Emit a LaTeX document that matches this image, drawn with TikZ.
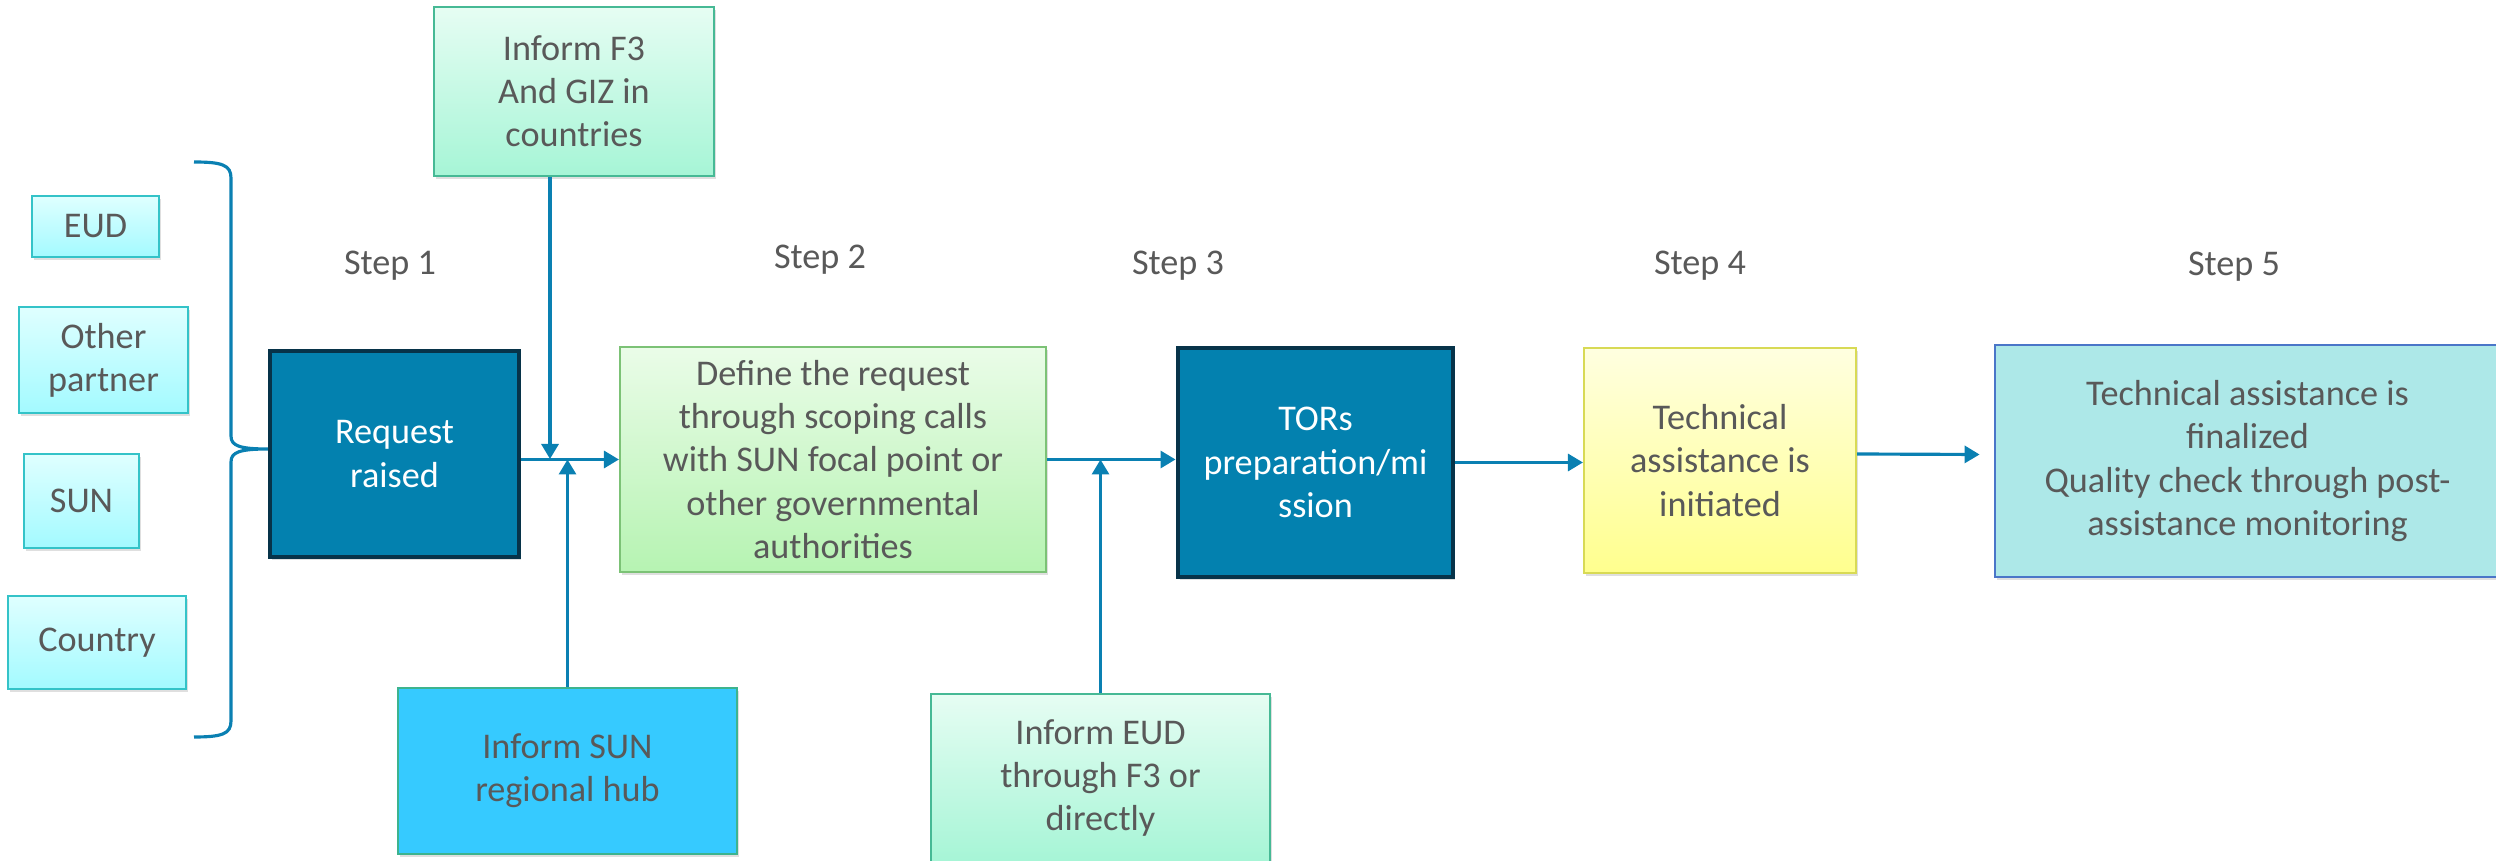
\documentclass[tikz,border=0pt]{standalone}
\usepackage{fontspec}
\setmainfont{Carlito}
\usepackage{tikz}
\usetikzlibrary{positioning,arrows.meta,shadows}

\definecolor{txtgray}{HTML}{595959}
\definecolor{linkblue}{HTML}{0A80B2}
\definecolor{darkfill}{HTML}{0381AF}
\definecolor{darkedge}{HTML}{073349}
\definecolor{cyantop}{HTML}{DFFFFF}
\definecolor{cyanbot}{HTML}{A3FAFF}
\definecolor{cyanedge}{HTML}{34C3C8}
\definecolor{minttop}{HTML}{E6FDF3}
\definecolor{mintbot}{HTML}{A6F5D6}
\definecolor{mintedge}{HTML}{46B995}
\definecolor{hubfill}{HTML}{36CAFF}
\definecolor{hubedge}{HTML}{3DB38E}
\definecolor{greentop}{HTML}{EAFCE8}
\definecolor{greenbot}{HTML}{B6F3B2}
\definecolor{greenedge}{HTML}{7CC276}
\definecolor{yellowtop}{HTML}{FFFFE0}
\definecolor{yellowbot}{HTML}{FFFF8E}
\definecolor{yellowedge}{HTML}{D8DA55}
\definecolor{finfill}{HTML}{ADE8E8}
\definecolor{finedge}{HTML}{4A76C8}

\tikzset{
    box/.style = {draw, rectangle, inner sep = 0pt, align = center, text = txtgray,
        font = \fontsize{10.3}{12.3}\selectfont,
        drop shadow = {shadow xshift = 0.02cm, shadow yshift = -0.03cm, opacity = 0.25}},
    cyanbox/.style = {box, draw = cyanedge, line width = 0.6pt, top color = cyantop, bottom color = cyanbot},
    mintbox/.style = {box, draw = mintedge, line width = 0.6pt, top color = minttop, bottom color = mintbot},
    darkbox/.style = {box, draw = darkedge, line width = 1.4pt, fill = darkfill, text = white},
    steplabel/.style = {text = txtgray, font = \fontsize{10.3}{12.3}\selectfont},
    arr/.style = {draw = linkblue, line width = 0.9pt, -{Triangle[length = 0.15cm, width = 0.17cm]}}
}

\begin{document}
\begin{tikzpicture}
    \useasboundingbox (0, 0) rectangle (24.96, -8.61);

    % who can raise a request
    \node[cyanbox, minimum width = 1.27cm, minimum height = 0.61cm] (eud) at (0.955, -2.265) {EUD};
    \node[cyanbox, minimum width = 1.69cm, minimum height = 1.06cm] (partner) at (1.035, -3.60) {Other\\partner};
    \node[cyanbox, minimum width = 1.15cm, minimum height = 0.94cm] (sun) at (0.815, -5.01) {SUN};
    \node[cyanbox, minimum width = 1.78cm, minimum height = 0.93cm] (country) at (0.97, -6.425) {Country};

    \coordinate (bt) at (1.94, -1.62);
    \coordinate (tip) at (2.68, -4.49);
    \coordinate (bb) at (1.94, -7.37);
    \draw[linkblue, line width = 0.9pt]
        (bt) .. controls (2.22, -1.62) and (2.31, -1.65) .. (2.31, -1.78)
        -- (2.31, -4.36) .. controls (2.31, -4.46) and (2.40, -4.49) .. (tip)
        .. controls (2.40, -4.49) and (2.31, -4.52) .. (2.31, -4.62)
        -- (2.31, -7.21) .. controls (2.31, -7.34) and (2.22, -7.37) .. (bb);

    % steps
    \node[steplabel] (s1) at (3.90, -2.66) {Step 1};
    \node[steplabel] (s2) at (8.20, -2.60) {Step 2};
    \node[steplabel] (s3) at (11.78, -2.66) {Step 3};
    \node[steplabel] (s4) at (17.00, -2.66) {Step 4};
    \node[steplabel] (s5) at (22.34, -2.67) {Step 5};

    \node[darkbox, minimum width = 2.49cm, minimum height = 2.06cm] (req) at (3.945, -4.54) {Request\\raised};
    \node[box, draw = greenedge, line width = 0.6pt, top color = greentop, bottom color = greenbot,
        minimum width = 4.26cm, minimum height = 2.25cm] (def) at (8.33, -4.595)
        {Define the request\\through scoping calls\\with SUN focal point or\\other governmental\\authorities};
    \node[darkbox, minimum width = 2.75cm, minimum height = 2.29cm] (tor) at (13.155, -4.625) {TORs\\preparation/mi\\ssion};
    \node[box, draw = yellowedge, line width = 0.6pt, top color = yellowtop, bottom color = yellowbot,
        minimum width = 2.72cm, minimum height = 2.25cm] (tech) at (17.20, -4.605) {Technical\\assistance is\\initiated};
    \node[box, draw = finedge, line width = 0.8pt, fill = finfill,
        minimum width = 5.05cm, minimum height = 2.32cm] (fin) at (22.475, -4.61)
        {Technical assistance is\\finalized\\Quality check through post-\\assistance monitoring};

    % who gets informed
    \node[mintbox, minimum width = 2.80cm, minimum height = 1.69cm] (f3) at (5.74, -0.915) {Inform F3\\And GIZ in\\countries};
    \node[box, draw = hubedge, line width = 0.6pt, fill = hubfill,
        minimum width = 3.39cm, minimum height = 1.66cm] (hub) at (5.675, -7.71) {Inform SUN\\regional hub};
    \node[mintbox, minimum width = 3.39cm, minimum height = 1.68cm] (inf) at (11.005, -7.78) {Inform EUD\\through F3 or\\directly};

    % connectors
    \coordinate (m1) at (5.50, -4.59);
    \draw[arr] (req.east |- def.west) -- (def.west);
    \draw[arr] (f3.south -| m1) -- (m1);
    \draw[arr] (hub.north) -- (hub.north |- def.west);
    \draw[arr] (def.east) -- (def.east -| tor.west);
    \draw[arr] (inf.north) -- (inf.north |- def.east);
    \draw[arr] (tor.east) -- (tor.east -| tech.west);
    \draw[arr] ([yshift = 0.065cm]tech.east) -- ([yshift = 0.065cm, xshift = -0.14cm]fin.west);

\end{tikzpicture}
\end{document}
